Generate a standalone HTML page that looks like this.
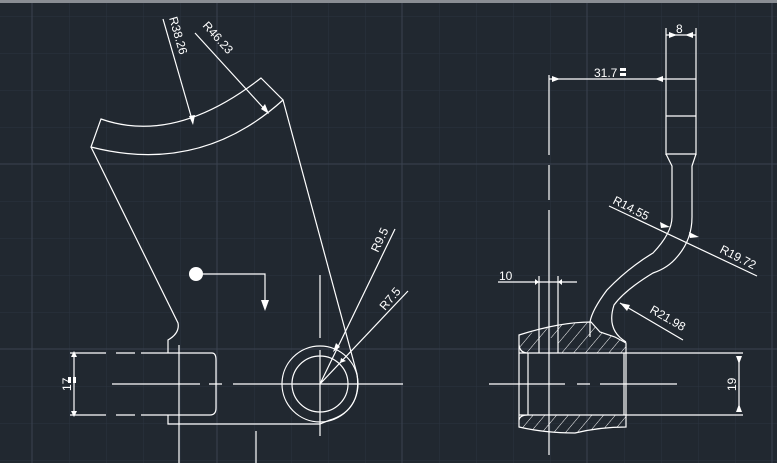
<!DOCTYPE html>
<html><head><meta charset="utf-8"><style>
html,body{margin:0;padding:0;background:#212830;}
svg{display:block}
text{font-family:"Liberation Sans",sans-serif;fill:#fff;font-size:12px}
</style></head><body>
<svg width="777" height="463" viewBox="0 0 777 463" xmlns="http://www.w3.org/2000/svg">
<defs>
<pattern id="g" width="37" height="37" patternUnits="userSpaceOnUse" x="32" y="16">
<path d="M0 0V37M0 0H37" stroke="#2c3440" stroke-width="1" fill="none"/>
</pattern>
<pattern id="h" width="9" height="9" patternUnits="userSpaceOnUse" patternTransform="rotate(40)">
<line x1="0" y1="0" x2="0" y2="9" stroke="#fff" stroke-width="1"/>
</pattern>
</defs>
<rect width="777" height="463" fill="#212830"/>
<rect width="777" height="463" fill="url(#g)"/>
<g stroke="#3a4250" stroke-width="1">
<line x1="32" y1="0" x2="32" y2="463"/><line x1="217" y1="0" x2="217" y2="463"/><line x1="402" y1="0" x2="402" y2="463"/><line x1="587" y1="0" x2="587" y2="463"/><line x1="772" y1="0" x2="772" y2="463"/>
<line x1="0" y1="164" x2="777" y2="164"/><line x1="0" y1="349" x2="777" y2="349"/>
</g>
<rect x="0" y="0" width="777" height="3" fill="#8a8e94"/>

<g stroke="#fff" stroke-width="1.2" fill="none">
<path d="M101 119 Q175 145 261 78 L283 100 Q200 175 91 147 Z"/>
<path d="M91 147 L178 323 Q180 333 168 340 L168 353"/>
<path d="M283 100 L357 374 Q362 410 330 420 L320 424 L168 424 L168 415"/>
<path d="M70 353 H106 M116 353 H135 M141 353 H212 Q216 353 216 360 V408 Q216 415 210 415 H141 M135 415 H116 M106 415 H70"/>
<circle cx="320" cy="384" r="38"/>
<circle cx="320" cy="384" r="28"/>
<path d="M112 384 H200 M209 384 H222 M233 384 H403"/>
<path d="M179 345 V463 M320 275 V338 M320 350 V436 M256 431 V463"/>
<path d="M74 356 V412"/>
<path d="M196 274 H265 V300"/>
<path d="M163 19 L193 123"/>
<path d="M195 33 L268 113"/>
<path d="M395 229 L320 384 L408 291"/>
<path d="M549 75 V155 M549 165 V200 M549 210 V455"/>
<path d="M549 79 H666 M666 35 H696 M666 28 V155 M696 28 V155 M666 79 H696 M666 116 H696 M666 154 H696"/>
<path d="M666 154 L672 166 V217 Q672 233 653 253 Q628 268 607 290 Q592 310 590 322 V337"/>
<path d="M696 154 L692 166 V217 Q692 240 677 257 Q668 268 653 273 Q625 290 614 305 Q606 330 626 342"/>
<path d="M519 335 Q560 322 591 322 L600 332 L615 337 L626 343 V427 Q600 427 575 433 Q545 433 519 427 Z"/>
<path d="M528 353 V415 M624 353 V415 M519 353 H743 M519 415 H743 M519 345 Q520 353 528 353 M519 420 Q520 415 528 415"/>
<path d="M539 276 V353 M558 276 V353 M498 282 H577"/>
<path d="M489 384 H565 M577 384 H590 M600 384 H677"/>
<path d="M739 356 V412"/>
<path d="M609 206 L757 276"/>
<path d="M620 303 L683 340"/>
</g>
<g fill="#fff">
<path d="M71 357 L74 351 L77 357 Z M71 411 L74 417 L77 411 Z"/>
<path d="M261 300 L265 311 L269 300 Z"/>
<circle cx="196" cy="274" r="7"/>
<path d="M189 116 L193 125 L195 115 Z"/>
<path d="M261 109 L269 114 L265 104 Z"/>
<path d="M336 343 L333 352 L340 347 Z M341 358 L340 363 L346 361 Z"/>
<path d="M552 76 L560 79 L552 82 Z M663 76 L655 79 L663 82 Z M669 32 L677 35 L669 38 Z M693 32 L685 35 L693 38 Z"/>
<path d="M535 279 L539 282 L535 285 Z M562 279 L558 282 L562 285 Z"/>
<path d="M736 356 L739 364 L742 356 Z M736 412 L739 404 L742 412 Z"/>
<path d="M660 222 L670 227 L661 228 Z M689 232 L699 237 L690 238 Z"/>
<path d="M620 303 L630 305 L627 311 Z"/>
<rect x="620" y="68" width="6" height="3"/><rect x="620" y="73" width="6" height="3"/>
<rect x="68" y="377" width="3" height="6"/><rect x="73" y="377" width="3" height="6"/>
</g>
<path d="M519 337 Q560 322 591 322 L600 332 L615 337 L626 343 V353 H558 V338 H539 V353 H528 Q520 353 519 345 Z" fill="url(#h)"/>
<path d="M519 420 Q520 415 528 415 H626 V427 Q600 427 575 433 Q545 433 519 427 Z" fill="url(#h)"/>
<text transform="translate(169,18) rotate(74)">R38.26</text>
<text transform="translate(202,26) rotate(48)">R46.23</text>
<text transform="translate(378,253) rotate(-65)">R9.5</text>
<text transform="translate(385,311) rotate(-50)">R7.5</text>
<text transform="translate(71,391) rotate(-90)">17</text>
<text x="594" y="77">31.7</text>
<text x="676" y="33">8</text>
<text x="499" y="280">10</text>
<text transform="translate(612,203) rotate(27)">R14.55</text>
<text transform="translate(719,252) rotate(27)">R19.72</text>
<text transform="translate(649,312) rotate(30)">R21.98</text>
<text transform="translate(736,391) rotate(-90)">19</text>
</svg>
</body></html>
